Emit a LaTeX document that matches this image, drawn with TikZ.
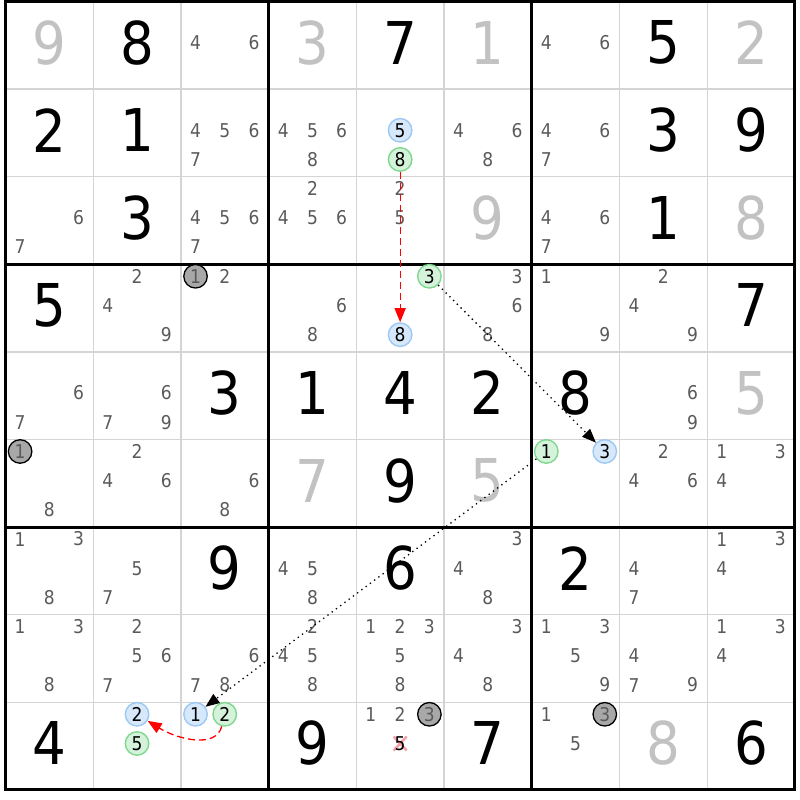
\documentclass[tikz,border=0pt]{standalone}
\usepackage{fontspec}
\setmainfont[FakeStretch=0.9]{DejaVu Sans}
\usepackage{tikz}
\usetikzlibrary{arrows.meta,calc}
\definecolor{candgray}{HTML}{5A5A5A}
\definecolor{solvedgray}{HTML}{C2C2C2}
\definecolor{gridgray}{HTML}{D4D4D4}
\definecolor{onfill}{HTML}{D6E8FA}
\definecolor{ondraw}{HTML}{9CC9F3}
\definecolor{offfill}{HTML}{D5F2DA}
\definecolor{offdraw}{HTML}{80D890}
\definecolor{pivotgray}{HTML}{A8A8A8}
\definecolor{crossred}{HTML}{F4A0A8}

% candidate digit #4 of row #2, column #3
\newcommand\cnd[4][cand]{%
  \node[#1] (k#2#3#4) at ({#3-1+(mod(#4-1,3)+0.5)/3},{#2-1+(floor((#4-1)/3)+0.5)/3-0.03}) {#4};}

\begin{document}
\begin{tikzpicture}[x=87.7pt,y=-87.6pt,
    given/.style={font=\fontsize{59}{59}\selectfont,text=black,inner sep=0pt},
    solved/.style={given,text=solvedgray},
    cand/.style={font=\fontsize{19}{19}\selectfont,text=candgray,inner sep=0pt},
    oncand/.style={cand,circle,text=black,draw=ondraw,fill=onfill,line width=1.4pt,minimum size=23.5pt},
    offcand/.style={cand,circle,text=black,draw=offdraw,fill=offfill,line width=1.4pt,minimum size=23.5pt},
    pivot/.style={cand,circle,draw=black,fill=pivotgray,line width=1.3pt,minimum size=23.5pt},
    strong/.style={red,line width=1.3pt,dash pattern=on 7pt off 4pt,-{Triangle[length=14pt,width=11pt]}},
    weak/.style={black,line width=1.3pt,dash pattern=on 1.3pt off 4pt,-{Triangle[length=14pt,width=11pt]}}]
  \useasboundingbox (-0.0627,-0.0171) rectangle (9.0593,9.1153);

  % Grid
  \foreach \i in {1,2,4,5,7,8} {
    \draw[gridgray,line width=1.2pt] (\i,0) -- (\i,9);
    \draw[gridgray,line width=1.2pt] (0,\i) -- (9,\i);
  }
  \foreach \i in {3,6} {
    \draw[black,line width=3pt] (\i,0) -- (\i,9);
    \draw[black,line width=3pt] (0,\i) -- (9,\i);
  }
  \draw[black,line width=3pt] (0,0) rectangle (9,9);

  % Givens
  \foreach \r/\c/\v in {1/2/8, 1/5/7, 1/8/5, 2/1/2, 2/2/1, 2/8/3, 2/9/9, 3/2/3, 3/8/1,
      4/1/5, 4/9/7, 5/3/3, 5/4/1, 5/5/4, 5/6/2, 5/7/8, 6/5/9, 7/3/9, 7/5/6, 7/7/2,
      9/1/4, 9/4/9, 9/6/7, 9/9/6}
    \node[given] (g\r\c) at ({\c-0.5},{\r-0.53}) {\v};

  % Solved cells
  \foreach \r/\c/\v in {1/1/9, 1/4/3, 1/6/1, 1/9/2, 3/6/9, 3/9/8, 5/9/5, 6/4/7, 6/6/5, 9/8/8}
    \node[solved] (s\r\c) at ({\c-0.5},{\r-0.53}) {\v};

  % Candidates
  \foreach \r/\c/\d in {1/3/4, 1/3/6, 1/7/4, 1/7/6,
      2/3/4, 2/3/5, 2/3/6, 2/3/7, 2/4/4, 2/4/5, 2/4/6, 2/4/8, 2/6/4, 2/6/6, 2/6/8,
      2/7/4, 2/7/6, 2/7/7,
      3/1/6, 3/1/7, 3/3/4, 3/3/5, 3/3/6, 3/3/7, 3/4/2, 3/4/4, 3/4/5, 3/4/6,
      3/5/2, 3/5/5, 3/7/4, 3/7/6, 3/7/7,
      4/2/2, 4/2/4, 4/2/9, 4/3/2, 4/4/6, 4/4/8, 4/6/3, 4/6/6, 4/6/8, 4/7/1, 4/7/9,
      4/8/2, 4/8/4, 4/8/9,
      5/1/6, 5/1/7, 5/2/6, 5/2/7, 5/2/9, 5/8/6, 5/8/9,
      6/1/8, 6/2/2, 6/2/4, 6/2/6, 6/3/6, 6/3/8, 6/8/2, 6/8/4, 6/8/6, 6/9/1, 6/9/3, 6/9/4,
      7/1/1, 7/1/3, 7/1/8, 7/2/5, 7/2/7, 7/4/4, 7/4/5, 7/4/8, 7/6/3, 7/6/4, 7/6/8,
      7/8/4, 7/8/7, 7/9/1, 7/9/3, 7/9/4,
      8/1/1, 8/1/3, 8/1/8, 8/2/2, 8/2/5, 8/2/6, 8/2/7, 8/3/6, 8/3/7, 8/3/8,
      8/4/2, 8/4/4, 8/4/5, 8/4/8, 8/5/1, 8/5/2, 8/5/3, 8/5/5, 8/5/8,
      8/6/3, 8/6/4, 8/6/8, 8/7/1, 8/7/3, 8/7/5, 8/7/9, 8/8/4, 8/8/7, 8/8/9,
      8/9/1, 8/9/3, 8/9/4,
      9/5/1, 9/5/2, 9/7/1, 9/7/5}
    {\cnd{\r}{\c}{\d}}

  % Chain candidates
  \cnd[oncand]{2}{5}{5}
  \cnd[offcand]{2}{5}{8}
  \cnd[offcand]{4}{5}{3}
  \cnd[oncand]{4}{5}{8}
  \cnd[offcand]{6}{7}{1}
  \cnd[oncand]{6}{7}{3}
  \cnd[oncand]{9}{2}{2}
  \cnd[offcand]{9}{2}{5}
  \cnd[oncand]{9}{3}{1}
  \cnd[offcand]{9}{3}{2}

  % Pivots
  \cnd[pivot]{4}{3}{1}
  \cnd[pivot]{6}{1}{1}
  \cnd[pivot]{9}{5}{3}
  \cnd[pivot]{9}{7}{3}

  % Eliminated candidate
  \coordinate (x955) at (4.5,8.47);
  \draw[crossred,line width=2.5pt] ($(x955)+(-6.5pt,-7pt)$) -- ($(x955)+(6.5pt,7pt)$);
  \draw[crossred,line width=2.5pt] ($(x955)+(-6.5pt,7pt)$) -- ($(x955)+(6.5pt,-7pt)$);
  \node[cand,text=black] (k955) at (x955) {5};

  % Links
  \draw[strong] (k258) -- (k458);
  \draw[weak] (k453) -- (k673);
  \draw[weak] (k671) -- (k931);
  \draw[strong] (k932) .. controls +(-0.1,0.4) and +(0.45,0.28) .. (k922);
\end{tikzpicture}
\end{document}
